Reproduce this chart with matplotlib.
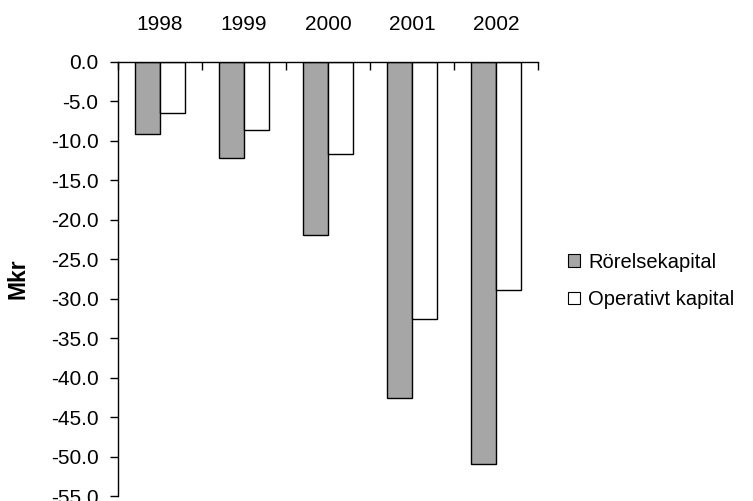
import matplotlib
matplotlib.use("Agg")
import matplotlib.pyplot as plt
import numpy as np
from matplotlib.patches import Patch

years = ["1998", "1999", "2000", "2001", "2002"]
rorelsekapital = [-9.1, -12.2, -21.9, -42.6, -51.0]
operativt = [-6.5, -8.6, -11.7, -32.6, -28.9]
series_names = ["Rörelsekapital", "Operativt kapital"]
ytick_vals = [0, -5, -10, -15, -20, -25, -30, -35, -40, -45, -50, -55]

plt.rcParams['font.family'] = ['Liberation Sans', 'DejaVu Sans']
FS = 15

fig = plt.figure(figsize=(7.53, 5.01), dpi=100)
ax = fig.add_axes([118/753, 1-496/501, (538-118)/753, (496-62)/501])

x = np.arange(len(years))
w = 0.292
ax.bar(x - w/2, rorelsekapital, w, color="#A6A6A6", edgecolor="black", linewidth=1.0)
ax.bar(x + w/2, operativt, w, color="white", edgecolor="black", linewidth=1.0)

ax.set_xlim(-0.5, len(years) - 0.5)
ax.set_ylim(-55, 0)

for s in ["right", "bottom"]:
    ax.spines[s].set_visible(False)
ax.spines["left"].set_linewidth(1.0)
ax.spines["top"].set_linewidth(1.0)

ax.set_yticks(ytick_vals)
ax.set_yticklabels([f"{v:.1f}" for v in ytick_vals], fontsize=FS)
ax.tick_params(axis="y", direction="out", length=6, width=1.0, pad=8)

ax.xaxis.tick_top()
ax.set_xticks(np.arange(len(years) + 1) - 0.5)
ax.set_xticklabels([])
ax.tick_params(axis="x", which="major", direction="in", length=6, width=1.0, top=True, bottom=False)
ax.set_xticks(x, minor=True)
ax.set_xticklabels(years, minor=True, fontsize=FS)
ax.tick_params(axis="x", which="minor", length=0, pad=20, top=True, bottom=False)

ax.set_ylabel("Mkr", fontsize=16.5, fontweight="bold")
ax.yaxis.set_label_coords(-(118-29)/420, 0.5)

handles = [Patch(facecolor="#A6A6A6", edgecolor="black", linewidth=0.8),
           Patch(facecolor="white", edgecolor="black", linewidth=0.8)]
fig.legend(handles, series_names, loc="center left", bbox_to_anchor=(568/753, 1-281/501),
           frameon=False, fontsize=14.5, handlelength=0.6, handleheight=0.6,
           handletextpad=0.4, labelspacing=0.9, borderpad=0, borderaxespad=0)

fig.savefig("out.png", dpi=100)
